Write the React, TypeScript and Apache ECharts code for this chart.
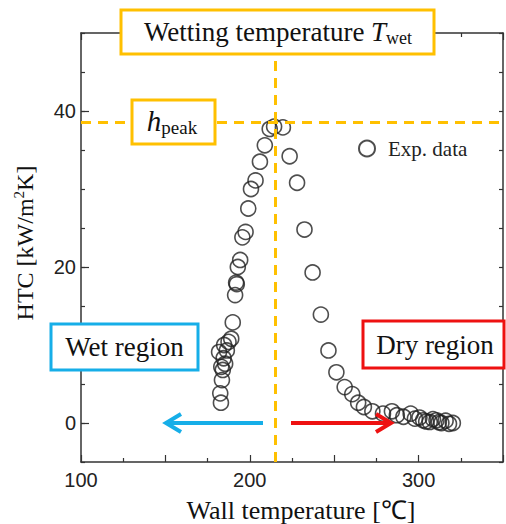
import React, { useEffect, useRef } from "react";
import * as echarts from "echarts";

const WALL_TEMP: number[] = [
  182.9, 182.5, 183.5, 184.0, 183.1, 181.8, 184.5, 185.4, 186.4, 184.8, 187.4, 189.0, 189.9,
  191.3, 191.9, 192.3, 192.9, 194.3, 195.6, 197.5, 199.1, 200.7, 203.4, 206.0, 208.9, 211.8,
  214.4, 219.6,
  223.6, 228.0, 232.4, 237.2, 242.1, 246.6, 251.3, 256.2, 260.7, 264.2, 267.6, 272.6, 278.9,
  284.2, 287.1, 291.0, 295.3, 297.8, 300.5, 302.7, 304.5, 306.6, 308.5, 310.6, 312.0, 313.5,
  316.0, 318.0, 320.3,
];
const HTC: number[] = [
  2.6, 3.8, 5.5, 6.8, 7.2, 9.1, 8.3, 7.6, 9.3, 10.0, 10.4, 10.8, 12.9,
  16.4, 18.0, 17.8, 20.0, 20.9, 23.8, 24.5, 27.5, 30.0, 31.1, 33.5, 35.6, 37.7,
  38.0, 37.9,
  34.2, 30.8, 24.8, 19.3, 13.9, 9.3, 6.5, 4.6, 3.7, 2.6, 2.05, 1.5, 1.2,
  1.5, 1.0, 0.8, 1.2, 0.56, 0.7, 0.35, 0.2, 0.13, 0.5, 0.35, 0.1, 0.0,
  0.3, -0.1, 0.0,
];
const X_LABELS: number[] = [100, 200, 300];
const Y_LABELS: number[] = [0, 20, 40];
const T_WET = 215;
const H_PEAK = 38.5;
const SERIES_NAME = "Exp. data";

const SERIF = "'Liberation Serif', 'Times New Roman', serif";
const SANS = "'Liberation Sans', Arial, sans-serif";
const AX = "#333";
const YELLOW = "#FFC000";
const BLUE = "#16AEE8";
const RED = "#EE1111";

export default function App() {
  const ref = useRef<HTMLDivElement>(null);
  useEffect(() => {
    if (!ref.current) return;
    const chart = echarts.init(ref.current, undefined, { renderer: "svg" });
    const data = WALL_TEMP.map((x, i) => [x, HTC[i]]);
    const axisLine = { show: true, onZero: false, lineStyle: { color: AX, width: 1.5 } };
    const option: any = {
      animation: false,
      backgroundColor: "#fff",
      grid: { left: 81, right: 1, top: 33, bottom: 62 },
      xAxis: [
        {
          type: "value", min: 100, max: 350, interval: 50, position: "bottom",
          axisLine,
          axisTick: { show: true, inside: true, length: 7, lineStyle: { color: AX, width: 1.2 } },
          minorTick: { show: true, splitNumber: 2, length: 4, lineStyle: { color: AX, width: 1.2 } },
          axisLabel: {
            formatter: (v: number) => (X_LABELS.includes(v) ? String(v) : ""),
            fontFamily: SANS, fontSize: 20, color: "#222", margin: 8,
          },
          splitLine: { show: false },
        },
        {
          type: "value", min: 100, max: 350, interval: 50, position: "top",
          axisLine,
          axisTick: { show: true, inside: true, length: 7, lineStyle: { color: AX, width: 1.2 } },
          minorTick: { show: true, splitNumber: 2, length: 4, lineStyle: { color: AX, width: 1.2 } },
          axisLabel: { show: false },
          splitLine: { show: false },
        },
      ],
      yAxis: [
        {
          type: "value", min: -5, max: 50, interval: 5, position: "left",
          axisLine,
          axisTick: { show: true, inside: true, length: 4, lineStyle: { color: AX, width: 1.2 } },
          axisLabel: {
            formatter: (v: number) => (Y_LABELS.includes(v) ? String(v) : ""),
            fontFamily: SANS, fontSize: 20, color: "#222", margin: 5,
          },
          splitLine: { show: false },
        },
        {
          type: "value", min: -5, max: 50, interval: 5, position: "right",
          axisLine,
          axisTick: { show: true, inside: true, length: 4, lineStyle: { color: AX, width: 1.2 } },
          axisLabel: { show: false },
          splitLine: { show: false },
        },
        {
          type: "value", min: -5, max: 50, position: "left",
          axisLine: { show: false },
          axisTick: { show: true, inside: true, length: 8, customValues: Y_LABELS, lineStyle: { color: AX, width: 1.2 } },
          axisLabel: { show: false },
          splitLine: { show: false },
        },
      ],
      legend: {
        data: [SERIES_NAME], left: 353, top: 133, itemWidth: 16, itemHeight: 16, icon: "circle",
        textStyle: { fontFamily: SERIF, fontSize: 21, color: "#222", padding: [0, 0, 0, 8] },
      },
      series: [
        {
          name: SERIES_NAME, type: "scatter", data, symbol: "circle", symbolSize: 15,
          itemStyle: { color: "rgba(0,0,0,0)", borderColor: "#222", borderWidth: 1.6 },
          markLine: {
            silent: true, symbol: "none", label: { show: false },
            lineStyle: { type: [10, 7], color: YELLOW, width: 3 },
            data: [{ xAxis: T_WET }, { yAxis: H_PEAK }],
          },
        },
      ],
      graphic: [
        {
          type: "rect", z: 100, shape: { x: 121, y: 10, width: 313, height: 44 },
          style: { fill: "#fff", stroke: YELLOW, lineWidth: 3 },
        },
        {
          type: "text", z: 101, x: 278, y: 32,
          style: {
            text: "{n|Wetting temperature }{i|T}{s|wet}", align: "center", verticalAlign: "middle",
            rich: {
              n: { fontFamily: SERIF, fontSize: 27, lineHeight: 30, fill: "#111" },
              i: { fontFamily: SERIF, fontSize: 27, fontStyle: "italic", lineHeight: 30, fill: "#111" },
              s: { fontFamily: SERIF, fontSize: 18, lineHeight: 18, verticalAlign: "bottom", fill: "#111" },
            },
          },
        },
        {
          type: "rect", z: 100, shape: { x: 132, y: 100, width: 83, height: 44 },
          style: { fill: "#fff", stroke: YELLOW, lineWidth: 3 },
        },
        {
          type: "text", z: 101, x: 172, y: 121,
          style: {
            text: "{i|h}{s|peak}", align: "center", verticalAlign: "middle",
            rich: {
              i: { fontFamily: SERIF, fontSize: 29, fontStyle: "italic", lineHeight: 32, fill: "#111" },
              s: { fontFamily: SERIF, fontSize: 19, lineHeight: 19, verticalAlign: "bottom", fill: "#111" },
            },
          },
        },
        {
          type: "rect", z: 100, shape: { x: 51, y: 324, width: 147, height: 46 },
          style: { fill: "#fff", stroke: BLUE, lineWidth: 3 },
        },
        {
          type: "text", z: 101, x: 124.5, y: 347,
          style: { text: "Wet region", align: "center", verticalAlign: "middle", fontFamily: SERIF, fontSize: 27, fill: "#111" },
        },
        {
          type: "rect", z: 100, shape: { x: 363, y: 321, width: 141, height: 47 },
          style: { fill: "#fff", stroke: RED, lineWidth: 3 },
        },
        {
          type: "text", z: 101, x: 435, y: 345,
          style: { text: "Dry region", align: "center", verticalAlign: "middle", fontFamily: SERIF, fontSize: 27, fill: "#111" },
        },
        {
          type: "line", z: 100, shape: { x1: 263, y1: 423, x2: 168, y2: 423 },
          style: { stroke: BLUE, lineWidth: 4 },
        },
        {
          type: "polyline", z: 100, shape: { points: [[181, 414], [166, 423], [181, 432]] },
          style: { stroke: BLUE, lineWidth: 4, fill: "none", lineJoin: "miter" },
        },
        {
          type: "line", z: 100, shape: { x1: 291, y1: 423, x2: 389, y2: 423 },
          style: { stroke: RED, lineWidth: 4 },
        },
        {
          type: "polyline", z: 100, shape: { points: [[376, 414], [391, 423], [376, 432]] },
          style: { stroke: RED, lineWidth: 4, fill: "none", lineJoin: "miter" },
        },
        {
          type: "text", z: 101, x: 25, y: 243, rotation: Math.PI / 2,
          style: {
            text: "{n|HTC [kW/m}{p|2}{n|K]}", align: "center", verticalAlign: "middle",
            rich: {
              n: { fontFamily: SERIF, fontSize: 24, lineHeight: 28, fill: "#111" },
              p: { fontFamily: SERIF, fontSize: 15, lineHeight: 15, verticalAlign: "top", fill: "#111" },
            },
          },
        },
        {
          type: "text", z: 101, x: 301, y: 510,
          style: { text: "Wall temperature [℃]", align: "center", verticalAlign: "middle", fontFamily: SERIF, fontSize: 26, fill: "#111" },
        },
      ],
    };
    chart.setOption(option);
    return () => chart.dispose();
  }, []);
  return (
    <div
      ref={ref}
      style={{ position: "fixed", left: 0, top: 0, width: 506, height: 524 }}
    />
  );
}
